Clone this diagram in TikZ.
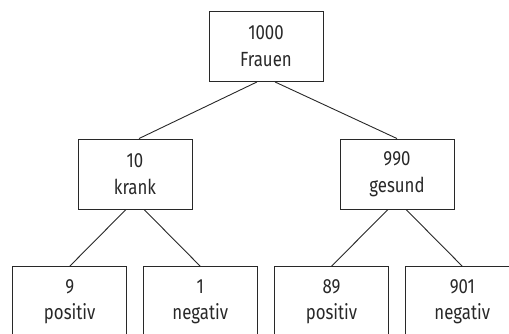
\documentclass[tikz,border=0pt]{standalone}
\usepackage{fontspec}
\setmainfont{Fira Sans}[FakeStretch=0.82]
\usepackage{tikz}
\definecolor{line_gray}{RGB}{40,40,40}

\begin{document}
\begin{tikzpicture}[x=1pt,y=-1pt,semithick,line width=0.9pt]
    \tikzstyle{box}=[draw=line_gray, rectangle, minimum width=114pt, minimum height=70pt, inner sep=0pt, align=center, text=line_gray, font=\fontsize{20.5}{26.7}\selectfont]
    \tikzstyle{link}=[draw=line_gray, line width=0.9pt]

    \useasboundingbox (0,0) rectangle (509,334);

    \node[box] (all)  at (266,46.5)    {1000\\Frauen};
    \node[box] (sick) at (135,174)     {10\\krank};
    \node[box] (well) at (397,174)     {990\\gesund};
    \node[box] (sp)   at (69.7,301.7)  {9\\positiv};
    \node[box] (sn)   at (200.3,301.7) {1\\negativ};
    \node[box] (wp)   at (331.5,301.7) {89\\positiv};
    \node[box] (wn)   at (462.3,301.7) {901\\negativ};

    \path
     ([xshift=-9pt]all.south)  edge[link] ([xshift=4pt]sick.north)
     ([xshift=9pt]all.south)   edge[link] (well.north)
     ([xshift=-9pt]sick.south) edge[link] (sp.north)
     ([xshift=9pt]sick.south)  edge[link] (sn.north)
     ([xshift=-9pt]well.south) edge[link] (wp.north)
     ([xshift=9pt]well.south)  edge[link] (wn.north)
     ;
\end{tikzpicture}
\end{document}
